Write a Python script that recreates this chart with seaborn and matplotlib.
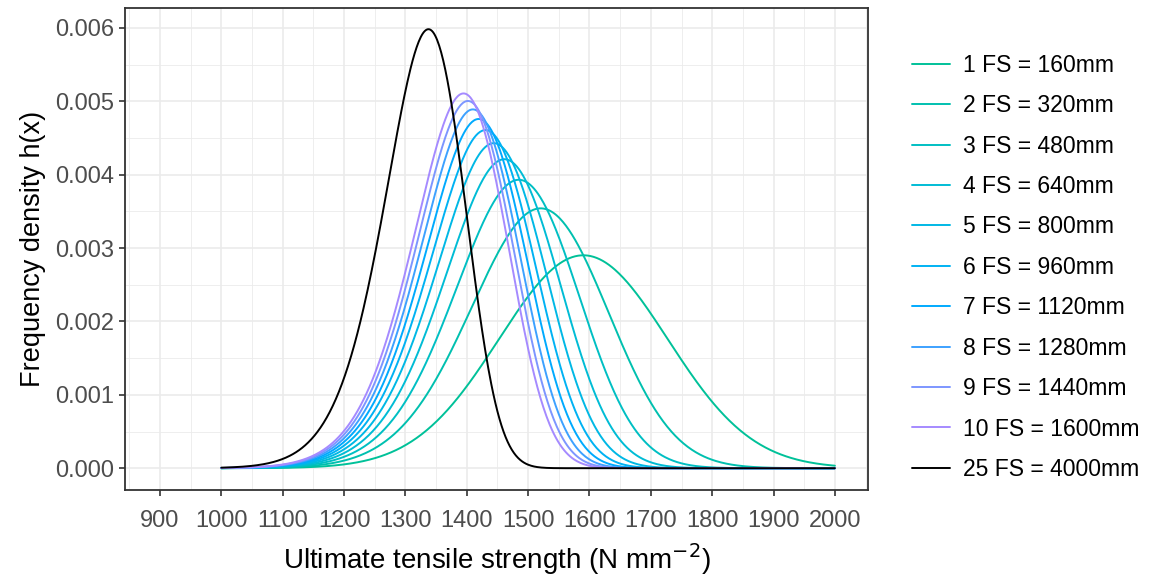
import math
import numpy as np
import pandas as pd
import matplotlib
matplotlib.use("Agg")
import matplotlib.pyplot as plt
from matplotlib.ticker import MultipleLocator, FixedLocator
import seaborn as sns

# ---- data (parameters) ----
n_fs = [1, 2, 3, 4, 5, 6, 7, 8, 9, 10, 25]
labels = [f"{n} FS = {n*160}mm" for n in n_fs]
mu_1fs = 1590.0      # mean strength of one free span (N/mm^2)
sd_1fs = 137.5       # standard deviation of one free span
x_min, x_max = 1000, 2000
x_ticks = list(range(900, 2001, 100))
y_ticks = [0.000, 0.001, 0.002, 0.003, 0.004, 0.005, 0.006]
hues = list(np.linspace(172, 272, 10))

erf = np.vectorize(math.erf)
x = np.linspace(x_min, x_max, 601)
z = (x - mu_1fs) / sd_1fs
pdf = np.exp(-0.5 * z**2) / (sd_1fs * math.sqrt(2 * math.pi))
sf = 1 - 0.5 * (1 + erf(z / math.sqrt(2)))
rows = []
for n, lab in zip(n_fs, labels):
    h = n * pdf * sf ** (n - 1)
    rows.append(pd.DataFrame({"x": x, "h": h, "series": lab}))
df = pd.concat(rows, ignore_index=True)

def hcl(h, c=100, l=65):
    Xn, Yn, Zn = 0.95047, 1.0, 1.08883
    hr = math.radians(h)
    U, V = c * math.cos(hr), c * math.sin(hr)
    Y = ((l + 16) / 116) ** 3
    un = 4 * Xn / (Xn + 15 * Yn + 3 * Zn)
    vn = 9 * Yn / (Xn + 15 * Yn + 3 * Zn)
    up = U / (13 * l) + un
    vp = V / (13 * l) + vn
    X = 9 * Y * up / (4 * vp)
    Z = -X / 3 - 5 * Y + 3 * Y / vp
    M = np.array([[3.2404542, -1.5371385, -0.4985314],
                  [-0.9692660, 1.8760108, 0.0415560],
                  [0.0556434, -0.2040259, 1.0572252]])
    rgb = M @ np.array([X, Y, Z])
    out = []
    for v in rgb:
        v = max(0.0, min(1.0, v))
        v = 12.92 * v if v <= 0.0031308 else 1.055 * v ** (1 / 2.4) - 0.055
        out.append(max(0.0, min(1.0, v)))
    return tuple(out)

palette = {lab: hcl(hh) for lab, hh in zip(labels[:10], hues)}
palette[labels[10]] = "black"

# ---- plotting ----
sns.set_theme(style="white")
plt.rcParams["font.family"] = ["Liberation Sans", "DejaVu Sans"]

fig = plt.figure(figsize=(11.62, 5.78), dpi=100)
ax = fig.add_axes([0.1076, 0.152, 0.6394, 0.834])

sns.lineplot(data=df, x="x", y="h", hue="series", hue_order=labels,
             palette=palette, linewidth=1.4, ax=ax, legend=False, sort=False,
             estimator=None)

ax.set_xlim(843, 2054)
ax.set_ylim(-0.000299, 0.00627)
ax.xaxis.set_major_locator(FixedLocator(x_ticks))
ax.xaxis.set_minor_locator(FixedLocator(list(range(850, 2051, 100))))
ax.yaxis.set_major_locator(FixedLocator(y_ticks))
ax.yaxis.set_minor_locator(MultipleLocator(0.0005))
ax.set_xticklabels([str(t) for t in x_ticks])
ax.set_yticklabels([f"{t:.3f}" for t in y_ticks])

ax.grid(which="major", color="#EBEBEB", linewidth=1.2)
ax.grid(which="minor", color="#EBEBEB", linewidth=0.6)
ax.set_axisbelow(True)
for s in ax.spines.values():
    s.set_color("#333333")
    s.set_linewidth(1.3)
ax.tick_params(which="major", direction="out", length=4.5, width=1.2,
               color="#333333", labelcolor="#4D4D4D", labelsize=17,
               bottom=True, left=True)
ax.tick_params(axis="x", which="major", pad=10)
ax.tick_params(axis="y", which="major", pad=3)
ax.tick_params(which="minor", length=0)

ax.set_xlabel("Ultimate tensile strength (N mm$^{-2}$)", fontsize=20, color="black", labelpad=6)
ax.set_ylabel("Frequency density h(x)", fontsize=19.5, color="black", labelpad=7)

handles = [plt.Line2D([], [], color=palette[l], linewidth=1.4) for l in labels]
leg = fig.legend(handles, labels, loc="upper left", bbox_to_anchor=(0.785, 0.907),
                 frameon=False, fontsize=16.5, handlelength=1.65, handletextpad=0.57,
                 labelspacing=0.76, borderpad=0, borderaxespad=0)
for t in leg.get_texts():
    t.set_color("black")

fig.savefig("out.png", dpi=100)
